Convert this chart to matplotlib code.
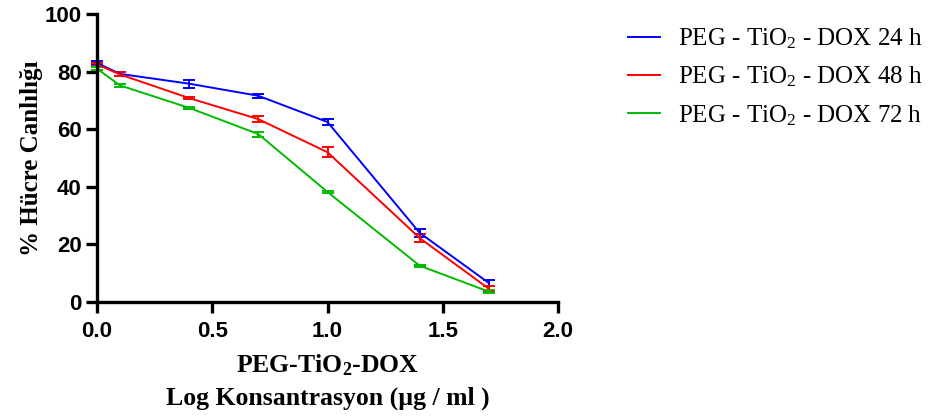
import matplotlib
matplotlib.use("Agg")
import matplotlib.pyplot as plt
from matplotlib.lines import Line2D

plt.rcParams["mathtext.fontset"] = "custom"
plt.rcParams["mathtext.rm"] = "Liberation Serif"
plt.rcParams["mathtext.it"] = "Liberation Serif:italic"
plt.rcParams["mathtext.bf"] = "Liberation Serif:bold"

# Log concentration (µg/ml) and viability (%) with SEM
log_conc = [0.0, 0.1, 0.4, 0.7, 1.0, 1.4, 1.7]

viab_24h = [83.0, 79.2, 75.8, 71.6, 62.5, 24.0, 6.6]
err_24h = [0.8, 0.6, 1.4, 0.7, 1.2, 1.5, 0.9]

viab_48h = [82.5, 79.0, 70.8, 63.5, 52.0, 22.2, 4.6]
err_48h = [0.6, 0.7, 0.4, 1.1, 1.7, 1.4, 0.8]

viab_72h = [81.0, 75.2, 67.4, 58.3, 38.2, 12.6, 3.6]
err_72h = [0.6, 0.4, 0.4, 0.9, 0.3, 0.3, 0.5]

labels = ["PEG - TiO$_2$ - DOX 24 h", "PEG - TiO$_2$ - DOX 48 h", "PEG - TiO$_2$ - DOX 72 h"]
colors = ["#0000ff", "#ff0000", "#00bb00"]

fig = plt.figure(figsize=(9.34, 4.19), dpi=100)
ax = fig.add_axes([97 / 934, 1 - 302 / 419, (558 - 97) / 934, (302 - 14) / 419])

for y, e, c in zip([viab_24h, viab_48h, viab_72h], [err_24h, err_48h, err_72h], colors):
    ax.errorbar(log_conc, y, yerr=e, color=c, lw=1.4, capsize=4, capthick=1.4,
                elinewidth=1.4, clip_on=False)

ax.set_xlim(0, 2)
ax.set_ylim(0, 100)
ax.set_xticks([0, 0.5, 1.0, 1.5, 2.0])
ax.set_xticklabels(["0.0", "0.5", "1.0", "1.5", "2.0"])
ax.set_yticks([0, 20, 40, 60, 80, 100])

for s in ["top", "right"]:
    ax.spines[s].set_visible(False)
for s in ["left", "bottom"]:
    ax.spines[s].set_linewidth(2.4)

ax.tick_params(direction="out", length=8, width=2.4, pad=3)
ax.tick_params(axis="x", pad=6)
for t in ax.get_xticklabels() + ax.get_yticklabels():
    t.set_fontfamily("Liberation Sans")
    t.set_fontweight("bold")
    t.set_fontsize(16)

ax.set_ylabel("% Hücre Canlılığı", fontfamily="Liberation Serif", fontweight="bold",
              fontsize=18, labelpad=1)
ax.set_xlabel("PEG-TiO$_\\mathbf{2}$-DOX\nLog Konsantrasyon (µg / ml )",
              fontfamily="Liberation Serif", fontweight="bold", fontsize=18.5,
              labelpad=7, linespacing=1.5)

handles = [Line2D([], [], color=c, lw=1.4) for c in colors]
fig.legend(handles, labels, loc="upper left", bbox_to_anchor=(605 / 934, 1 - 4 / 419),
           frameon=False, prop={"family": "Liberation Serif", "size": 18},
           handlelength=1.28, handletextpad=0.72, labelspacing=0.55)

fig.savefig("out.png", dpi=100)
